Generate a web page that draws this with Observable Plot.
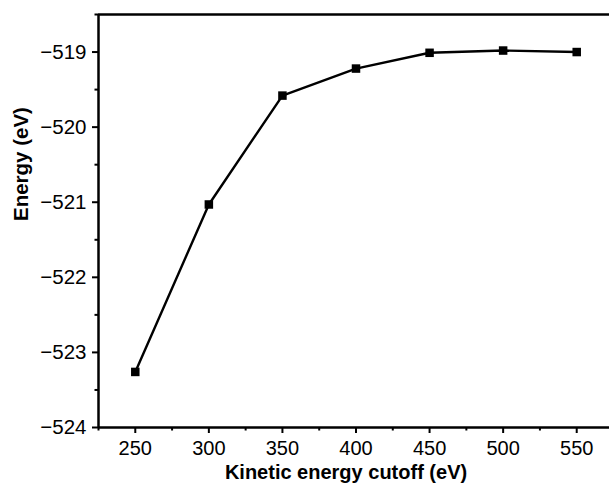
<!DOCTYPE html>
<html>
<head>
<meta charset="utf-8">
<script src="https://cdn.jsdelivr.net/npm/d3@7"></script>
<script src="https://cdn.jsdelivr.net/npm/@observablehq/plot@0.6"></script>
<style>
  html, body { margin: 0; padding: 0; background: #fff; }
  svg { display: block; }
  g[aria-label$="axis tick"] path { stroke: #000 !important; stroke-width: 2px !important; stroke-opacity: 1 !important; }
</style>
</head>
<body>
<div id="chart"></div>
<script>
const cutoffs = [250, 300, 350, 400, 450, 500, 550];
const energies = [-523.26, -521.03, -519.58, -519.22, -519.01, -518.98, -519.00];
const xTicks = [250, 300, 350, 400, 450, 500, 550];
const xMinor = [225, 275, 325, 375, 425, 475, 525, 575];
const yTicks = [-524, -523, -522, -521, -520, -519];
const yMinor = [-523.5, -522.5, -521.5, -520.5, -519.5, -518.5];
const xLabel = "Kinetic energy cutoff (eV)";
const yLabel = "Energy (eV)";

const data = cutoffs.map((c, i) => ({cutoff: c, energy: energies[i]}));

const font = "Liberation Sans, Arial, Helvetica, sans-serif";

const chart = Plot.plot({
  width: 609,
  height: 485,
  marginLeft: 98,
  marginTop: 14,
  marginBottom: 58,
  marginRight: 0,
  style: {fontFamily: font, fontSize: "20px", color: "#000", background: "#fff"},
  x: {domain: [225, 575], range: [98, 613]},
  y: {domain: [-524, -518.5]},
  marks: [
    Plot.axisX({ticks: xTicks, tickSize: 6, strokeWidth: 2, stroke: "#000", strokeOpacity: 1, tickPadding: 7, fontSize: 20,
      tickFormat: d => String(d), label: null}),
    Plot.axisX({ticks: xMinor, tickSize: 3.5, strokeWidth: 2, stroke: "#000", strokeOpacity: 1, tickFormat: () => "", label: null}),
    Plot.axisY({ticks: yTicks, tickSize: 6, strokeWidth: 2, stroke: "#000", strokeOpacity: 1, tickPadding: 6, fontSize: 20.5,
      tickFormat: d => "\u2212" + Math.abs(d), label: null}),
    Plot.axisY({ticks: yMinor, tickSize: 3.5, strokeWidth: 2, stroke: "#000", strokeOpacity: 1, tickFormat: () => "", label: null}),
    Plot.ruleY([-518.5], {stroke: "#000", strokeWidth: 2.5}),
    Plot.ruleY([-524], {stroke: "#000", strokeWidth: 2.5}),
    Plot.ruleX([225], {stroke: "#000", strokeWidth: 2.5}),
    Plot.line(data, {x: "cutoff", y: "energy", stroke: "#000", strokeWidth: 2.4}),
    Plot.dot(data, {x: "cutoff", y: "energy", symbol: "square", r: 4.8, fill: "#000", stroke: "none"}),
    Plot.text([xLabel], {frameAnchor: "bottom", dy: 51, dx: -8, text: d => d, fontWeight: "bold",
      fontSize: 20, fill: "#000"}),
    Plot.text([yLabel], {frameAnchor: "left", dx: -77, rotate: -90, text: d => d, fontWeight: "bold",
      fontSize: 20.5, fill: "#000"})
  ]
});
document.getElementById("chart").append(chart);
</script>
</body>
</html>
